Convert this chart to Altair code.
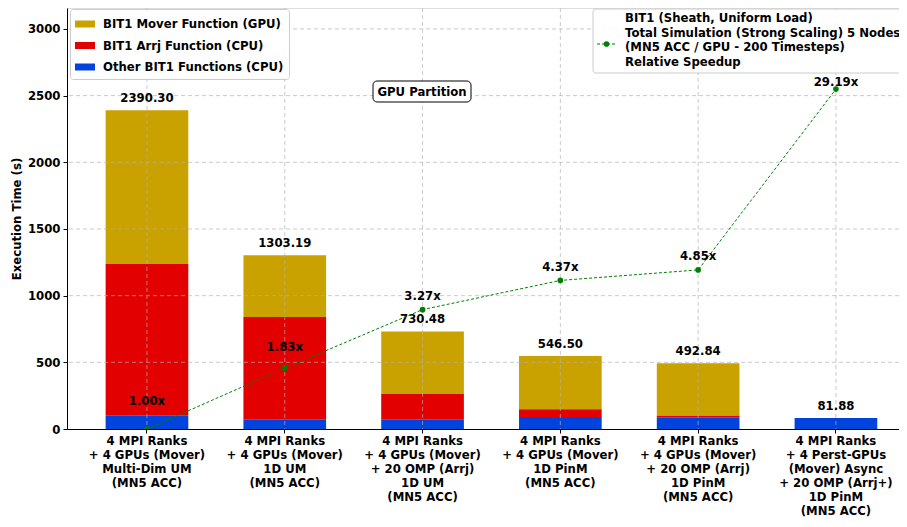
import altair as alt
import pandas as pd

# ---------------- data ----------------
configs = [
    "4 MPI Ranks\n+ 4 GPUs (Mover)\nMulti-Dim UM\n(MN5 ACC)",
    "4 MPI Ranks\n+ 4 GPUs (Mover)\n1D UM\n(MN5 ACC)",
    "4 MPI Ranks\n+ 4 GPUs (Mover)\n+ 20 OMP (Arrj)\n1D UM\n(MN5 ACC)",
    "4 MPI Ranks\n+ 4 GPUs (Mover)\n1D PinM\n(MN5 ACC)",
    "4 MPI Ranks\n+ 4 GPUs (Mover)\n+ 20 OMP (Arrj)\n1D PinM\n(MN5 ACC)",
    "4 MPI Ranks\n+ 4 Perst-GPUs\n(Mover) Async\n+ 20 OMP (Arrj+)\n1D PinM\n(MN5 ACC)",
]
other_cpu = [100.0, 73.0, 73.0, 90.0, 88.0, 81.88]
arrj_cpu = [1137.0, 767.0, 189.0, 58.0, 12.0, 0.0]
mover_gpu = [1153.30, 463.19, 468.48, 398.50, 392.84, 0.0]
totals = [2390.30, 1303.19, 730.48, 546.50, 492.84, 81.88]
speedups = [1.00, 1.83, 3.27, 4.37, 4.85, 29.19]

components = ["BIT1 Mover Function (GPU)", "BIT1 Arrj Function (CPU)", "Other BIT1 Functions (CPU)"]
colors = ["#c9a200", "#e30000", "#0044dd"]
y_ticks = [0, 500, 1000, 1500, 2000, 2500, 3000]
line_label = ("BIT1 (Sheath, Uniform Load)\nTotal Simulation (Strong Scaling) 5 Nodes\n"
              "(MN5 ACC / GPU - 200 Timesteps)\nRelative Speedup")
annotation_text = "GPU Partition"

FONT = "DejaVu Sans"
FS = 11.7

# ---------------- frames ----------------
series = [mover_gpu, arrj_cpu, other_cpu]
rows = []
for i, c in enumerate(configs):
    for k, name in enumerate(components):
        rows.append({"config": c, "component": name, "value": series[k][i],
                     "stack": len(components) - 1 - k})
df_bars = pd.DataFrame(rows)
df_tot = pd.DataFrame({"config": configs, "total": totals})
df_sp = pd.DataFrame({"config": configs, "speedup": speedups, "idx": list(range(len(configs)))})
df_grid_x = pd.DataFrame({"config": configs})
df_grid_y = pd.DataFrame({"tick": y_ticks[1:]})
df_one = pd.DataFrame({"label": [line_label], "note": [annotation_text]})

# ---------------- encodings ----------------
X = alt.X(
    "config:N", sort=configs,
    scale=alt.Scale(paddingInner=0.4, paddingOuter=0.219, align=0.64),
    axis=alt.Axis(title=None, labelAngle=0, labelExpr="split(datum.label, '\\n')",
                  labelFont=FONT, labelFontSize=FS, labelFontWeight="bold", labelColor="black",
                  labelLineHeight=14.1, labelPadding=2, tickSize=4, labelLimit=400,
                  domainColor="black", tickColor="black", grid=False),
)
y_axis = alt.Axis(title="Execution Time (s)", values=y_ticks, grid=False, format="d",
                  labelFont=FONT, labelFontSize=FS, labelFontWeight="bold", labelColor="black",
                  titleFont=FONT, titleFontSize=FS, titleFontWeight="bold", titleColor="black",
                  tickSize=4, labelPadding=3, titlePadding=5,
                  domainColor="black", tickColor="black")
y_scale = alt.Scale(domain=[0, 3157], nice=False, zero=True)

bars = alt.Chart(df_bars).mark_bar(strokeWidth=0).encode(
    x=X,
    y=alt.Y("value:Q", stack="zero", scale=y_scale, axis=y_axis),
    color=alt.Color("component:N",
                    scale=alt.Scale(domain=components, range=colors),
                    legend=alt.Legend(orient="none", legendX=3, legendY=1, title=None,
                                      symbolType="M-1,-0.35H1V0.35H-1Z", symbolSize=400,
                                      symbolStrokeWidth=0, labelFont=FONT, labelFontSize=FS,
                                      labelFontWeight="bold", labelColor="black", labelLimit=400,
                                      labelOffset=8, fillColor="white", strokeColor="#cccccc",
                                      cornerRadius=3, padding=5, rowPadding=4.5)),
    order=alt.Order("stack:Q"),
)

grid_style = dict(color="#b0b0b0", strokeDash=[4, 3], strokeWidth=0.8, opacity=0.85)
grid_x = alt.Chart(df_grid_x).mark_rule(**grid_style).encode(x=X)
grid_y = alt.Chart(df_grid_y).mark_rule(**grid_style).encode(
    y=alt.Y("tick:Q", scale=y_scale, axis=y_axis))

tot_text = alt.Chart(df_tot).mark_text(
    baseline="alphabetic", dy=-8.5, font=FONT, fontSize=FS, fontWeight="bold", color="black"
).encode(x=X, y=alt.Y("total:Q", scale=y_scale, axis=y_axis),
         text=alt.Text("total:Q", format=".2f"))

primary = alt.layer(bars, grid_x, grid_y, tot_text)

YS = alt.Y("speedup:Q", scale=alt.Scale(type="log", domain=[1, 65.27], nice=False), axis=None)
sp_base = alt.Chart(df_sp)
sp_line = sp_base.mark_line(color="green", strokeWidth=1, strokeDash=[3, 2], clip=True).encode(x=X, y=YS)
sp_pts = sp_base.mark_circle(color="green", size=32, opacity=1, clip=True).encode(x=X, y=YS)


def sp_labels(cond, dy):
    return sp_base.transform_filter(cond).transform_calculate(
        lab="format(datum.speedup, '.2f') + 'x'"
    ).mark_text(baseline="alphabetic", dy=dy, font=FONT, fontSize=FS, fontWeight="bold",
                color="black").encode(x=X, y=YS, text="lab:N")


secondary = alt.layer(
    sp_line, sp_pts,
    sp_labels("datum.idx == 0", -24.5),
    sp_labels("datum.idx == 1", -17.5),
    sp_labels("datum.idx >= 2 && datum.idx <= 4", -9.5),
    sp_labels("datum.idx == 5", -3.5),
)

# ---------------- annotations (legend box for line, GPU partition box) ----------------
ann = alt.Chart(df_one)
leg_box = ann.mark_rect(fill="white", fillOpacity=0.9, stroke="#cccccc", strokeWidth=1,
                        cornerRadius=3).encode(
    x=alt.value(526), x2=alt.value(850), y=alt.value(1), y2=alt.value(65))
leg_line = ann.mark_rule(color="green", strokeWidth=1, strokeDash=[3, 2]).encode(
    x=alt.value(530), x2=alt.value(550), y=alt.value(36))
leg_pt = ann.mark_circle(color="green", size=32, opacity=1).encode(
    x=alt.value(539.5), y=alt.value(36))
leg_txt = ann.mark_text(align="left", baseline="top", lineBreak="\n", lineHeight=14.5,
                        font=FONT, fontSize=FS, fontWeight="bold", color="black").encode(
    x=alt.value(558), y=alt.value(5), text="label:N")
gpu_box = ann.mark_rect(fill="white", stroke="black", strokeWidth=1, cornerRadius=4).encode(
    x=alt.value(306), x2=alt.value(404), y=alt.value(73), y2=alt.value(94))
gpu_txt = ann.mark_text(align="center", baseline="middle", font=FONT, fontSize=FS,
                        fontWeight="bold", color="black").encode(
    x=alt.value(355), y=alt.value(84), text="note:N")
annotations = alt.layer(leg_box, leg_line, leg_pt, leg_txt, gpu_box, gpu_txt)

chart = alt.layer(primary, secondary, annotations).resolve_scale(
    y="independent"
).properties(
    width=832, height=421,
    autosize=alt.AutoSizeParams(type="none"),
    padding={"left": 59, "top": 0, "right": 0, "bottom": 90},
).configure_view(stroke="black", strokeWidth=1).configure(font=FONT)

chart.save("out.html", embed_options={"renderer": "svg", "actions": False})
